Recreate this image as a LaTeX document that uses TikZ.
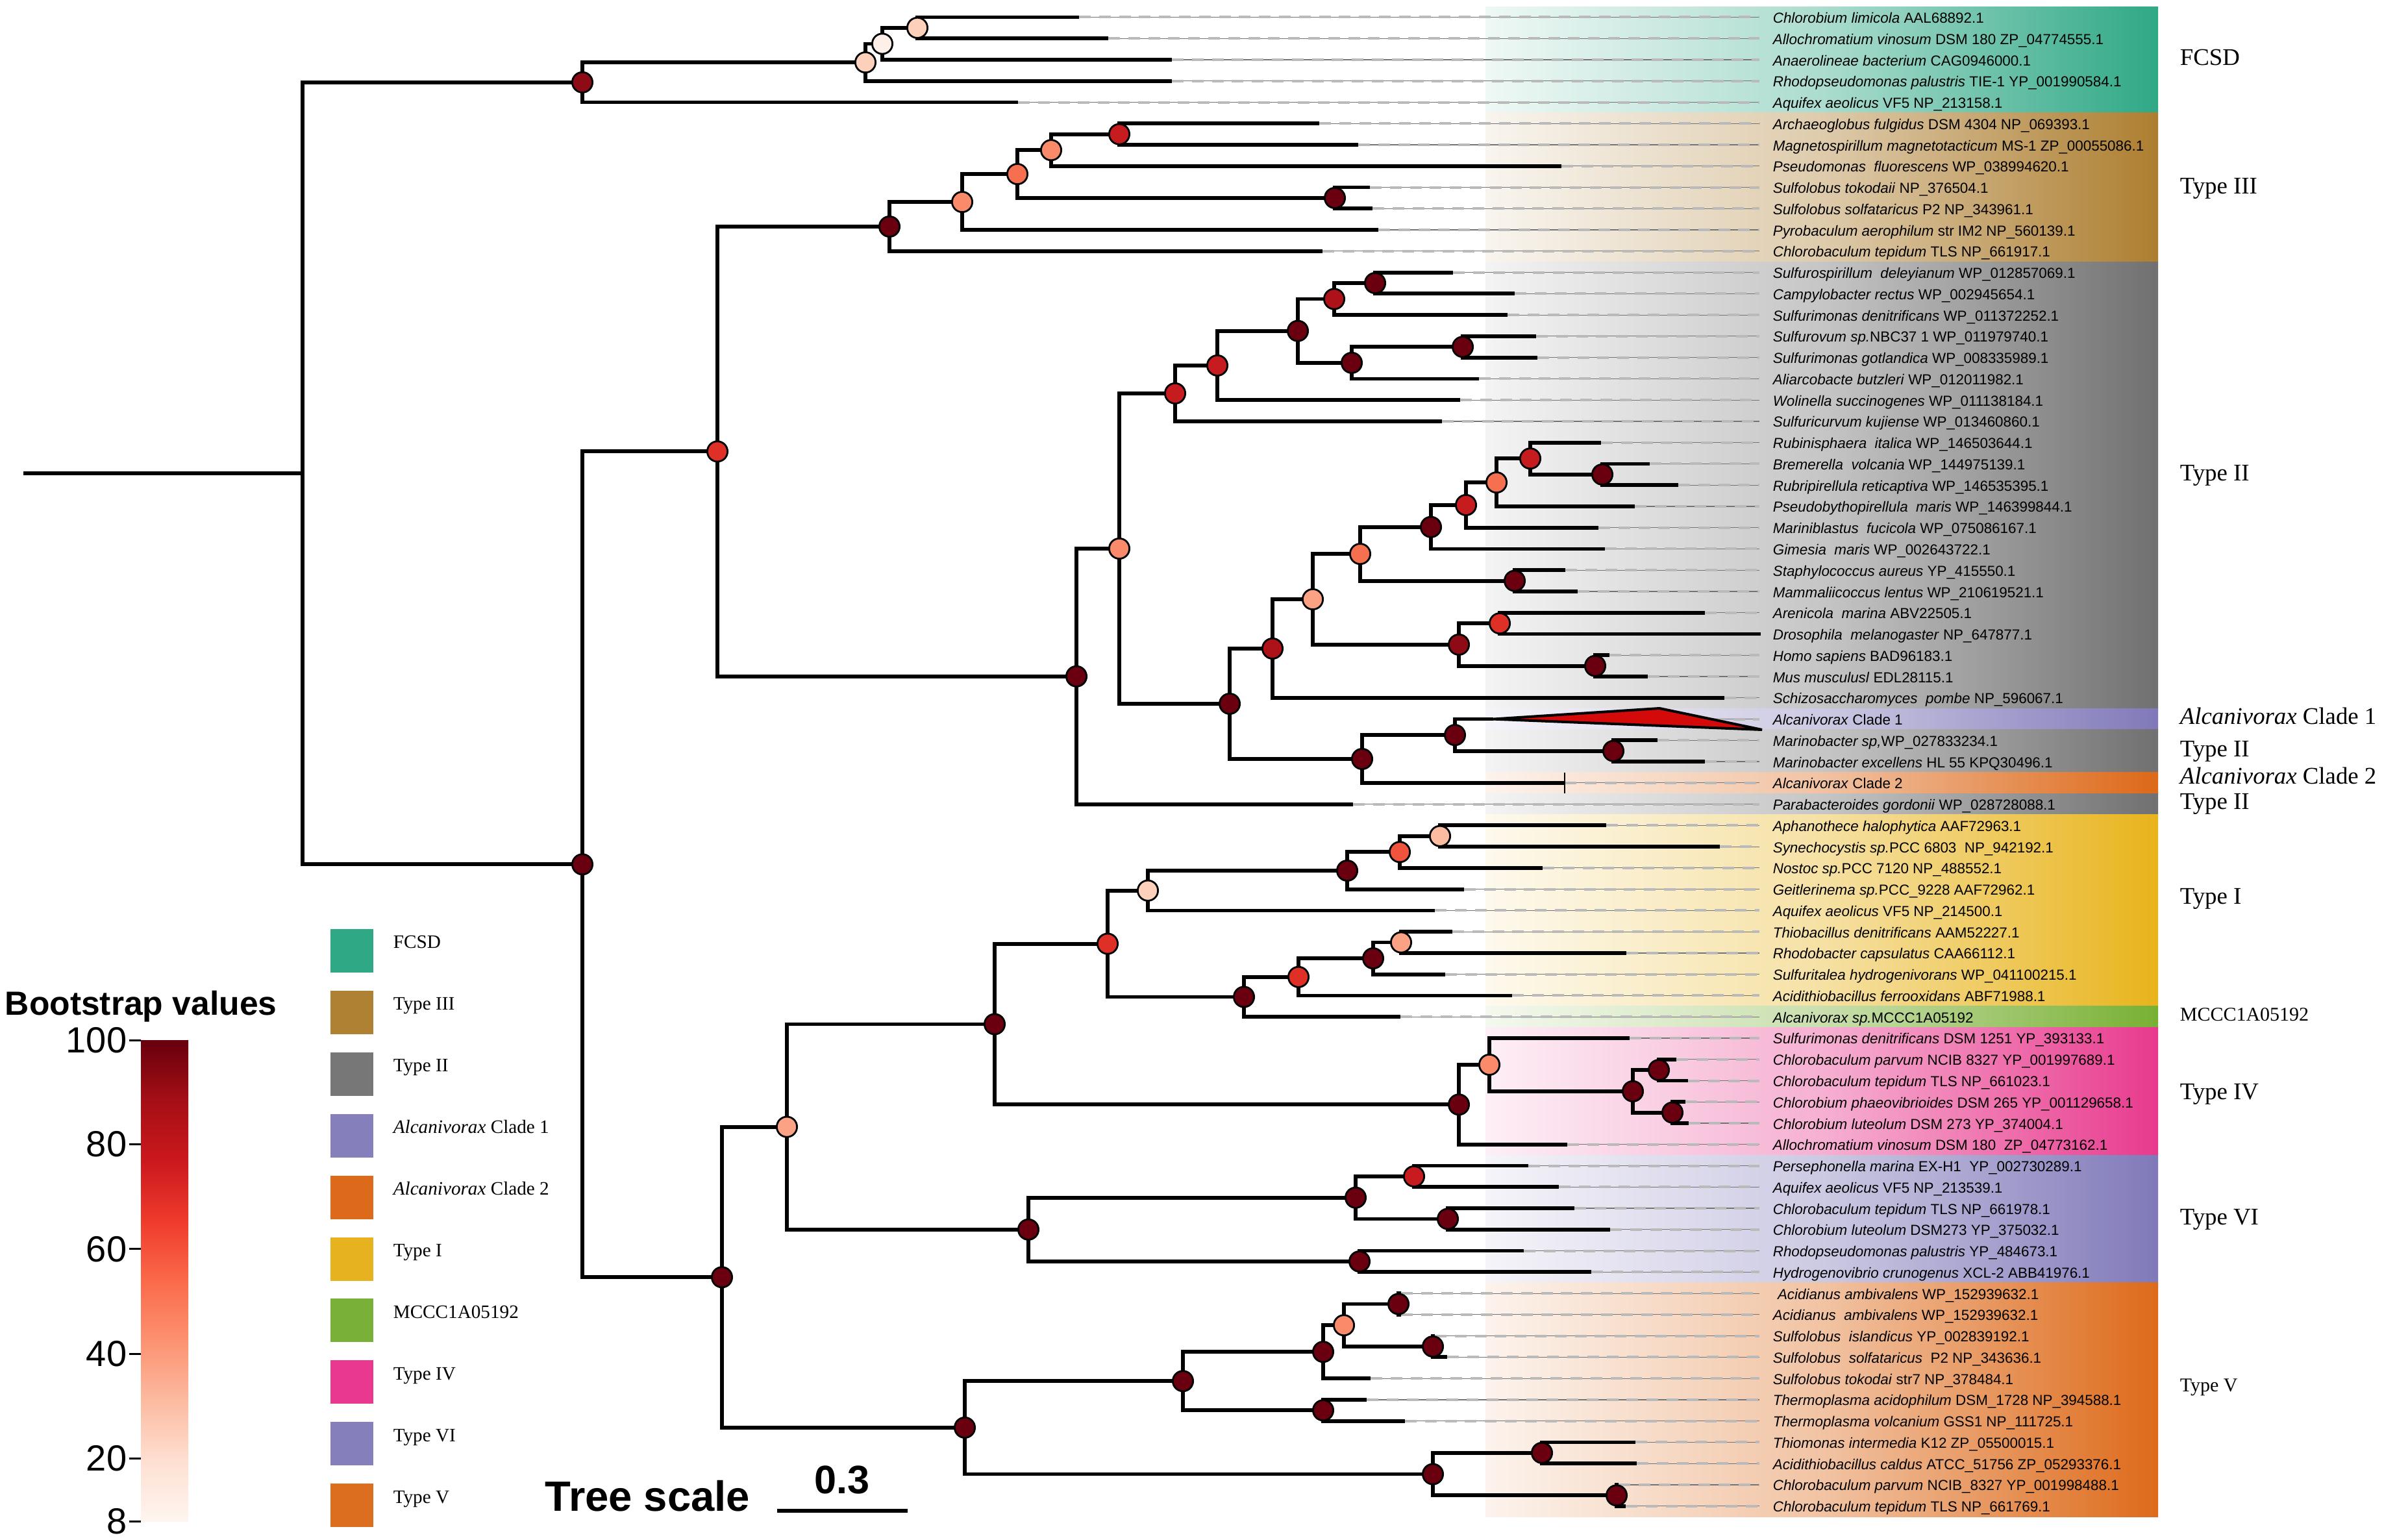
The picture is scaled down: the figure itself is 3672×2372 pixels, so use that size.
\documentclass[tikz,border=0pt]{standalone}
\usepackage{fontspec}
\setmainfont{Liberation Serif}
\newfontfamily\lsans{Liberation Sans}
\usetikzlibrary{calc}
% bootstrap colours
\definecolor{bsA}{HTML}{6A000F}
\definecolor{bsB}{HTML}{8E0B15}
\definecolor{bsC}{HTML}{AC1218}
\definecolor{bsD}{HTML}{C61C1F}
\definecolor{bsE}{HTML}{DF3027}
\definecolor{bsF}{HTML}{F0543D}
\definecolor{bsG}{HTML}{F6704F}
\definecolor{bsH}{HTML}{F98A6A}
\definecolor{bsI}{HTML}{FBA285}
\definecolor{bsJ}{HTML}{FCBCA2}
\definecolor{bsK}{HTML}{FDD0BC}
\definecolor{bsL}{HTML}{FEF0E8}
% group colours
\definecolor{cFCSD}{HTML}{2FA886}
\definecolor{cT3}{HTML}{AD7E30}
\definecolor{cT2}{HTML}{707070}
\definecolor{cAlc}{HTML}{8079B9}
\definecolor{cAlcB}{HTML}{DD6818}
\definecolor{cT1}{HTML}{E8B41C}
\definecolor{cMC}{HTML}{78B033}
\definecolor{cT4}{HTML}{E83A8E}
\definecolor{cT6}{HTML}{8079B9}
\definecolor{cT5}{HTML}{DD6A1A}
% legend colours
\definecolor{lgFCSD}{HTML}{2FA886}
\definecolor{lgT3}{HTML}{AF8133}
\definecolor{lgT2}{HTML}{777777}
\definecolor{lgA1}{HTML}{8580BB}
\definecolor{lgA2}{HTML}{DC6A1A}
\definecolor{lgT1}{HTML}{E6B220}
\definecolor{lgMC}{HTML}{79B037}
\definecolor{lgT4}{HTML}{E8398F}
\definecolor{lgT6}{HTML}{8580BB}
\definecolor{lgT5}{HTML}{DC6E20}
\definecolor{trired}{HTML}{D40A0A}
% Reds colour bar
\definecolor{rd1}{HTML}{FFF5F0}
\definecolor{rd2}{HTML}{FEE0D2}
\definecolor{rd3}{HTML}{FCBBA1}
\definecolor{rd4}{HTML}{FC9272}
\definecolor{rd5}{HTML}{FB6A4A}
\definecolor{rd6}{HTML}{EF3B2C}
\definecolor{rd7}{HTML}{CB181D}
\definecolor{rd8}{HTML}{A50F15}
\definecolor{rd9}{HTML}{67000D}
\pgfdeclareverticalshading{bsreds}{100bp}{color(0bp)=(rd1); color(25bp)=(rd1); color(31.25bp)=(rd2); color(37.5bp)=(rd3); color(43.75bp)=(rd4); color(50bp)=(rd5); color(56.25bp)=(rd6); color(62.5bp)=(rd7); color(68.75bp)=(rd8); color(75bp)=(rd9); color(100bp)=(rd9)}

\begin{document}
\begin{tikzpicture}[x=0.25pt,y=-0.25pt,
  br/.style={line width=1.45pt, black},
  bs/.style={circle, draw=black, line width=0.7pt, fill=#1, inner sep=0pt, minimum size=7.8pt},
  leaflab/.style={anchor=base west, inner sep=0pt, font=\lsans\fontsize{5.6}{6}\selectfont},
  dlA/.style={black!55, line width=0.3pt},
  dlB/.style={black!27, line width=1pt, dash pattern=on 4.5pt off 3.2pt},
  grplab/.style={anchor=base west, inner sep=0pt, font=\fontsize{9.2}{11}\selectfont},
  grpsmall/.style={anchor=base west, inner sep=0pt, font=\fontsize{7.5}{9}\selectfont},
  sq/.style={minimum width=16.5pt, minimum height=16.75pt, inner sep=0pt, draw=none},
  leglab/.style={anchor=base west, inner sep=0pt, font=\fontsize{7.3}{9}\selectfont}]
\useasboundingbox (0,0) rectangle (3672,2372);

% ---------- coloured bands ----------
\foreach \ya/\yb/\cc in {10.12/174.0/cFCSD, 174.0/403.24/cT3, 403.24/1091.2/cT2,
  1091.2/1123.96/cAlc, 1123.96/1189.48/cT2, 1189.48/1222.24/cAlcB, 1222.24/1255.0/cT2,
  1255.0/1549.84/cT1, 1549.84/1582.6/cMC, 1582.6/1779.16/cT4, 1779.16/1975.72/cT6,
  1975.72/2336.08/cT5}
  \shade[left color=\cc!8, right color=\cc, middle color=\cc!40] (2288,\ya) rectangle (3324,\yb);

% ---------- leaves ----------
\foreach \i/\tx/\lab in {
0/1662/{\textit{Chlorobium limicola} AAL68892.1},
1/1707/{\textit{Allochromatium vinosum} DSM 180 ZP\_04774555.1},
2/1805/{\textit{Anaerolineae bacterium} CAG0946000.1},
3/1805/{\textit{Rhodopseudomonas palustris} TIE-1 YP\_001990584.1},
4/1568/{\textit{Aquifex aeolicus} VF5 NP\_213158.1},
5/2032/{\textit{Archaeoglobus fulgidus} DSM 4304 NP\_069393.1},
6/2092/{\textit{Magnetospirillum magnetotacticum} MS-1 ZP\_00055086.1},
7/2405/{\textit{Pseudomonas~ fluorescens} WP\_038994620.1},
8/2110/{\textit{Sulfolobus tokodaii} NP\_376504.1},
9/2114/{\textit{Sulfolobus solfataricus} P2 NP\_343961.1},
10/2123/{\textit{Pyrobaculum aerophilum} str IM2 NP\_560139.1},
11/2037/{\textit{Chlorobaculum tepidum} TLS NP\_661917.1},
12/2238/{\textit{Sulfurospirillum~ deleyianum} WP\_012857069.1},
13/2333/{\textit{Campylobacter rectus} WP\_002945654.1},
14/2322/{\textit{Sulfurimonas denitrificans} WP\_011372252.1},
15/2366/{\textit{Sulfurovum sp.}NBC37 1 WP\_011979740.1},
16/2368/{\textit{Sulfurimonas gotlandica} WP\_008335989.1},
17/2278/{\textit{Aliarcobacte butzleri} WP\_012011982.1},
18/2249/{\textit{Wolinella succinogenes} WP\_011138184.1},
19/2221/{\textit{Sulfuricurvum kujiense} WP\_013460860.1},
20/2466/{\textit{Rubinisphaera~ italica} WP\_146503644.1},
21/2541/{\textit{Bremerella~ volcania} WP\_144975139.1},
22/2585/{\textit{Rubripirellula reticaptiva} WP\_146535395.1},
23/2518/{\textit{Pseudobythopirellula~ maris} WP\_146399844.1},
24/2462/{\textit{Mariniblastus~ fucicola} WP\_075086167.1},
25/2472/{\textit{Gimesia~ maris} WP\_002643722.1},
26/2411/{\textit{Staphylococcus aureus} YP\_415550.1},
27/2430/{\textit{Mammaliicoccus lentus} WP\_210619521.1},
28/2626/{\textit{Arenicola~ marina} ABV22505.1},
29/2712/{\textit{Drosophila~ melanogaster} NP\_647877.1},
30/2479/{\textit{Homo sapiens} BAD96183.1},
31/2538/{\textit{Mus musculusl} EDL28115.1},
32/2656/{\textit{Schizosaccharomyces~ pombe} NP\_596067.1},
33/2300/{\textit{Alcanivorax} Clade 1},
34/2553/{\textit{Marinobacter sp,}WP\_027833234.1},
35/2626/{\textit{Marinobacter excellens} HL 55 KPQ30496.1},
36/2410/{\textit{Alcanivorax} Clade 2},
37/2084/{\textit{Parabacteroides gordonii} WP\_028728088.1},
38/2474/{\textit{Aphanothece halophytica} AAF72963.1},
39/2649/{\textit{Synechocystis sp.}PCC 6803~ NP\_942192.1},
40/2376/{\textit{Nostoc sp.}PCC 7120 NP\_488552.1},
41/2255/{\textit{Geitlerinema sp.}PCC\_9228 AAF72962.1},
42/2210/{\textit{Aquifex aeolicus} VF5 NP\_214500.1},
43/2237/{\textit{Thiobacillus denitrificans} AAM52227.1},
44/2505/{\textit{Rhodobacter capsulatus} CAA66112.1},
45/2226/{\textit{Sulfuritalea hydrogenivorans} WP\_041100215.1},
46/2329/{\textit{Acidithiobacillus ferrooxidans} ABF71988.1},
47/2157/{\textit{Alcanivorax sp.}MCCC1A05192},
48/2510/{\textit{Sulfurimonas denitrificans} DSM 1251 YP\_393133.1},
49/2582/{\textit{Chlorobaculum parvum} NCIB 8327 YP\_001997689.1},
50/2600/{\textit{Chlorobaculum tepidum} TLS NP\_661023.1},
51/2596/{\textit{Chlorobium phaeovibrioides} DSM 265 YP\_001129658.1},
52/2601/{\textit{Chlorobium luteolum} DSM 273 YP\_374004.1},
53/2414/{\textit{Allochromatium vinosum} DSM 180~ ZP\_04773162.1},
54/2354/{\textit{Persephonella marina} EX-H1~ YP\_002730289.1},
55/2401/{\textit{Aquifex aeolicus} VF5 NP\_213539.1},
56/2425/{\textit{Chlorobaculum tepidum} TLS NP\_661978.1},
57/2480/{\textit{Chlorobium luteolum} DSM273 YP\_375032.1},
58/2347/{\textit{Rhodopseudomonas palustris} YP\_484673.1},
59/2451/{\textit{Hydrogenovibrio crunogenus} XCL-2 ABB41976.1},
60/2158/{\hspace*{1.8pt}\textit{Acidianus ambivalens} WP\_152939632.1},
61/2158/{\textit{Acidianus~ ambivalens} WP\_152939632.1},
62/2210/{\textit{Sulfolobus~ islandicus} YP\_002839192.1},
63/2229/{\textit{Sulfolobus~ solfataricus}~ P2 NP\_343636.1},
64/2111/{\textit{Sulfolobus tokodai} str7 NP\_378484.1},
65/2105/{\textit{Thermoplasma acidophilum} DSM\_1728 NP\_394588.1},
66/2164/{\textit{Thermoplasma volcanium} GSS1 NP\_111725.1},
67/2519/{\textit{Thiomonas intermedia} K12 ZP\_05500015.1},
68/2521/{\textit{Acidithiobacillus caldus} ATCC\_51756 ZP\_05293376.1},
69/2493/{\textit{Chlorobaculum parvum} NCIB\_8327 YP\_001998488.1},
70/2504/{\textit{Chlorobaculum tepidum} TLS NP\_661769.1}}{
  \coordinate (l\i) at (\tx,{26.5+32.76*\i});
  \coordinate (d\i) at (2710,{26.5+32.76*\i});
  \node[leaflab] (t\i) at (2730,{35.5+32.76*\i}) {\lab};
}

% dashed guide lines
\foreach \i in {0,...,28,30,31,...,70}{
  \draw[dlA] (l\i) -- (d\i);
  \draw[dlB] (l\i) -- (d\i);
}

% ---------- internal nodes ----------
\coordinate (root0) at (36,729.09);
\foreach \n/\x/\y in {nR/466/729.09, nFC/897/126.83, nA/1333/96.12, nB/1359/67.45, nC/1413/42.88,
  nL0/897/1331.34, nL1/1105/695.39, nT3/1370/348.98, nT3a/1482/311.1, nT3b/1567/268.1,
  nT3c/1619/231.25, nT3e/1724/206.68, nT3d/2056/304.96, nL3/1658/1041.79, nL4/1724/844.96,
  nE/1810/605.94, nE1/1875/562.95, nE2/1999/509.71, nE3/2055/460.57, nE5/2118/436.0,
  nE4/2082/558.85, nE6/2253/534.28, nF/1894/1083.97, nG/1960/998.94, nH/2022/923.05,
  nI/2095/853.18, nK/2204/811.72, nM/2258/777.93, nN/2305/743.13, nO/2357/706.27,
  nP/2468/730.84, nLs/2333/894.64, nJ/2247/992.92, nQ/2310/960.16, nHm/2457/1025.68,
  nS/2098/1169.0, nT/2241/1132.15, nU/2485/1156.72, nL2/1112/1967.28, nV/1212/1735.66,
  nX1/1532/1577.49, nX2/1706/1453.61, nX3/1768/1371.71, nX5/2075/1341.0, nX6/2156/1312.33,
  nX7/2218/1287.76, nX4/1916/1535.51, nX8/2000/1504.8, nX9/2115/1476.13, nX10/2158/1451.56,
  nZ/2247/1701.36, nZ1/2294/1639.93, nZ2/2515/1680.88, nZ3/2555/1648.12, nZ4/2576/1713.64,
  nY1/1584/1893.82, nY2/2088/1844.68, nY4/2178/1811.92, nY5/2230/1877.44, nY3/2094/1942.96,
  nW/1486/2198.9, nW1/1822/2127.24, nW3/2038/2082.19, nW5/2070/2041.24, nW6/2154/2008.48,
  nW7/2207/2074.0, nW4/2038/2172.28, nW2/2207/2270.56, nW8/2375/2237.8, nW9/2490/2303.32}
  \coordinate (\n) at (\x,\y);

% ---------- branches ----------
\draw[br] (root0) -- (nR);
\foreach \p/\a/\b in {nR/nFC/nL0, nFC/nA/l4, nA/nB/l3, nB/nC/l2, nC/l0/l1,
  nL0/nL1/nL2, nL1/nT3/nL3, nT3/nT3a/l11, nT3a/nT3b/l10, nT3b/nT3c/nT3d, nT3c/nT3e/l7,
  nT3e/l5/l6, nT3d/l8/l9, nL3/nL4/l37, nL4/nE/nF, nE/nE1/l19, nE1/nE2/l18, nE2/nE3/nE4,
  nE3/nE5/l14, nE5/l12/l13, nE4/nE6/l17, nE6/l15/l16, nF/nG/nS, nG/nH/l32, nH/nI/nJ,
  nI/nK/nLs, nK/nM/l25, nM/nN/l24, nN/nO/l23, nO/l20/nP, nP/l21/l22, nLs/l26/l27,
  nJ/nQ/nHm, nQ/l28/l29, nHm/l30/l31, nS/nT/l36, nT/l33/nU, nU/l34/l35,
  nL2/nV/nW, nV/nX1/nY1, nX1/nX2/nZ, nX2/nX3/nX4, nX3/nX5/l42, nX5/nX6/l41, nX6/nX7/l40,
  nX7/l38/l39, nX4/nX8/l47, nX8/nX9/l46, nX9/nX10/l45, nX10/l43/l44,
  nZ/nZ1/l53, nZ1/l48/nZ2, nZ2/nZ3/nZ4, nZ3/l49/l50, nZ4/l51/l52,
  nY1/nY2/nY3, nY2/nY4/nY5, nY4/l54/l55, nY5/l56/l57, nY3/l58/l59,
  nW/nW1/nW2, nW1/nW3/nW4, nW3/nW5/l64, nW5/nW6/nW7, nW6/l60/l61, nW7/l62/l63,
  nW4/l65/l66, nW2/nW8/nW9, nW8/l67/l68, nW9/l69/l70}
  \draw[br] (\a) -| (\p) |- (\b);

% collapsed Alcanivorax clade 1
\coordinate (tri2) at (2556,1091);
\coordinate (tri3) at (2714,1124);
\filldraw[fill=trired, draw=black, line width=1pt, line join=miter] (l33) -- (tri2) -- (tri3) -- cycle;
% Alcanivorax clade 2 tick
\coordinate (k1) at (2410,1190);
\coordinate (k2) at (2410,1222);
\draw[line width=0.6pt] (k1) -- (k2);

% ---------- bootstrap circles ----------
\foreach \n/\c in {nFC/bsB, nA/bsK, nB/bsL, nC/bsK, nL0/bsA, nL1/bsE, nT3/bsA, nT3a/bsH,
  nT3b/bsG, nT3c/bsH, nT3e/bsD, nT3d/bsA, nL3/bsA, nL4/bsH, nE/bsD, nE1/bsD, nE2/bsA,
  nE3/bsC, nE5/bsA, nE4/bsA, nE6/bsA, nF/bsA, nG/bsC, nH/bsI, nI/bsG, nK/bsA, nM/bsD,
  nN/bsG, nO/bsD, nP/bsA, nLs/bsA, nJ/bsB, nQ/bsE, nHm/bsA, nS/bsA, nT/bsA, nU/bsA,
  nL2/bsA, nV/bsI, nX1/bsA, nX2/bsE, nX3/bsK, nX5/bsA, nX6/bsF, nX7/bsJ, nX4/bsA,
  nX8/bsE, nX9/bsA, nX10/bsI, nZ/bsA, nZ1/bsH, nZ2/bsA, nZ3/bsA, nZ4/bsA, nY1/bsA,
  nY2/bsA, nY4/bsD, nY5/bsA, nY3/bsA, nW/bsA, nW1/bsA, nW3/bsA, nW5/bsH, nW6/bsA,
  nW7/bsA, nW4/bsA, nW2/bsA, nW8/bsA, nW9/bsA}
  \node[bs=\c] (c\n) at (\n) {};

% ---------- group labels ----------
\node[grplab] (gFCSD) at (3357,101) {FCSD};
\node[grplab] (gT3) at (3357,299) {Type III};
\node[grplab] (gT2a) at (3357,741) {Type II};
\node[grplab] (gA1) at (3357,1115.5) {\textit{Alcanivorax} Clade 1};
\node[grplab] (gT2b) at (3357,1166) {Type II};
\node[grplab] (gA2) at (3357,1208) {\textit{Alcanivorax} Clade 2};
\node[grplab] (gT2c) at (3357,1247) {Type II};
\node[grplab] (gT1) at (3357,1393) {Type I};
\node[grpsmall] (gMC) at (3357,1572) {MCCC1A05192};
\node[grplab] (gT4) at (3357,1693) {Type IV};
\node[grplab] (gT6) at (3357,1886) {Type VI};
\node[grpsmall] (gT5) at (3357,2143) {Type V};

% ---------- legend ----------
\foreach \k/\cc/\lab in {0/lgFCSD/FCSD, 1/lgT3/Type III, 2/lgT2/Type II,
  3/lgA1/{\textit{Alcanivorax} Clade 1}, 4/lgA2/{\textit{Alcanivorax} Clade 2},
  5/lgT1/Type I, 6/lgMC/MCCC1A05192, 7/lgT4/Type IV, 8/lgT6/Type VI, 9/lgT5/Type V}{
  \node[sq, fill=\cc] (sq\k) at (542,{1464.5+94.9*\k}) {};
  \node[leglab] (sl\k) at (605,{1461+94.9*\k}) {\lab};
}

% ---------- bootstrap colour bar ----------
\node[anchor=base west, inner sep=0pt, font=\lsans\bfseries\fontsize{12.9}{15}\selectfont] (bsv) at (7,1564) {Bootstrap values};
\shade[shading=bsreds] (217,1602) rectangle (290,2343.6);
\foreach \v/\yy in {100/1602, 80/1762.7, 60/1923.9, 40/2085, 20/2246, 8/2343.6}{
  \coordinate (tk\v) at (217,\yy);
  \coordinate (tka\v) at (199,\yy);
  \draw[line width=0.75pt] (tka\v) -- (tk\v);
  \node[anchor=east, inner sep=0pt, font=\lsans\fontsize{14}{16}\selectfont] (tl\v) at (196,\yy) {\v};
}

% ---------- tree scale ----------
\node[anchor=base west, inner sep=0pt, font=\lsans\bfseries\fontsize{16.3}{19}\selectfont] (tsc) at (839,2327) {Tree scale};
\node[anchor=base, inner sep=0pt, font=\lsans\bfseries\fontsize{15.3}{18}\selectfont] (tsv) at (1297,2300) {0.3};
\coordinate (sb1) at (1197,2327);
\coordinate (sb2) at (1398,2327);
\draw[line width=1.5pt] (sb1) -- (sb2);
\end{tikzpicture}
\end{document}
